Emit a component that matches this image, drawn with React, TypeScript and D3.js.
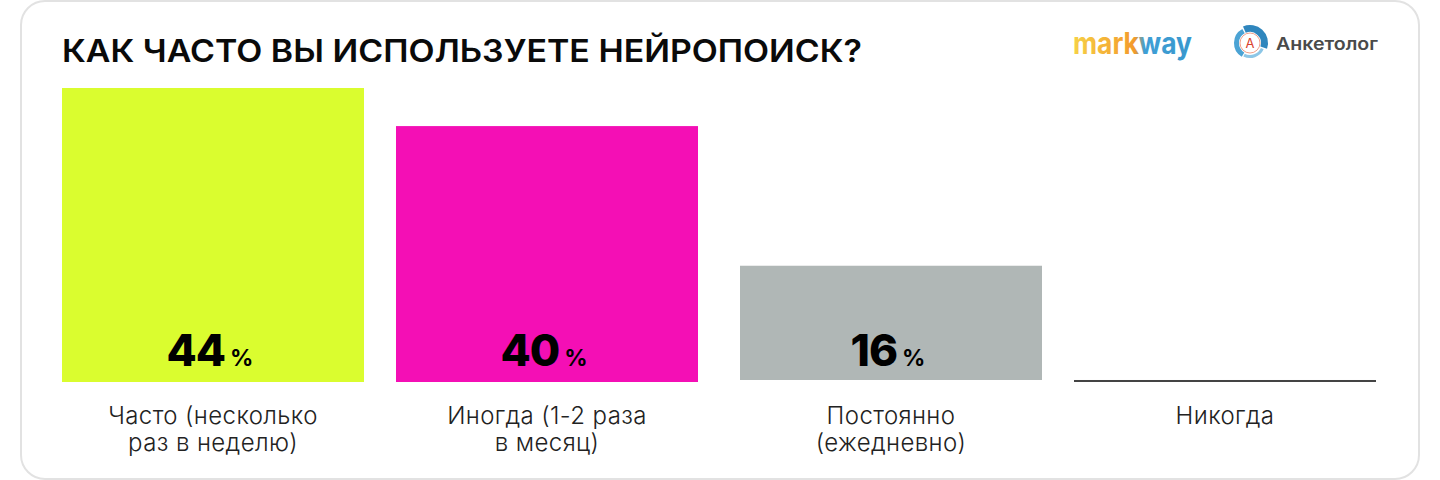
import React from "react";
import * as d3 from "d3";

const W = 1440;
const H = 480;
const titleText = "КАК ЧАСТО ВЫ ИСПОЛЬЗУЕТЕ НЕЙРОПОИСК?";
const categories = ["chasto", "inogda", "postoyanno", "nikogda"];
const labelLines = [
  ["Часто (несколько", "раз в неделю)"],
  ["Иногда (1-2 раза", "в месяц)"],
  ["Постоянно", "(ежедневно)"],
  ["Никогда"],
];
const shownPercents = [44, 40, 16, null];
// Drawn bar lengths, in the 0-44 units of the tallest bar
const barLengths = [44, 38.3, 17.1, 0.3];
const barColors = ["#dafd2f", "#f40fb5", "#b0b7b6", "#444444"];

const FONT = "Inter, 'Noto Sans', sans-serif";

const x = d3.scaleBand<string>().domain(categories).range([62, 1366]).paddingInner(32 / 334).paddingOuter(0).align(0);
const y = d3.scaleLinear().domain([0, 44]).range([382, 88]);
const groupShift = (i: number) => (i >= 2 ? 10 : 0);
const bottomShift = (i: number) => (i === 2 ? 2 : 0);

const ringDark = d3.arc()({ innerRadius: 11, outerRadius: 18, startAngle: -0.4, endAngle: 1.9 }) as string;
const ringMid = d3.arc()({ innerRadius: 11, outerRadius: 16, startAngle: -2.6, endAngle: -0.5 }) as string;
const ringLight = d3.arc()({ innerRadius: 12, outerRadius: 15, startAngle: 2.0, endAngle: 3.6 }) as string;

export default function App() {
  const bw = x.bandwidth();
  return (
    <svg width={W} height={H} viewBox={`0 0 ${W} ${H}`} style={{ position: "absolute", left: 0, top: 0, background: "#fff" }} fontFamily={FONT}>
      <defs>
        <linearGradient id="mw" x1="0" x2="1" y1="0" y2="0">
          <stop offset="0" stopColor="#f6d046" />
          <stop offset="0.52" stopColor="#f39a2c" />
          <stop offset="0.6" stopColor="#3f9fd6" />
          <stop offset="1" stopColor="#3a97cc" />
        </linearGradient>
      </defs>
      <rect x={21} y={1} width={1398} height={478} rx={24} fill="#fff" stroke="#e2e2e2" strokeWidth={2} />
      <text x={62} y={62} fontSize={31} fontWeight={600} fill="#0a0a0a" textLength={800} lengthAdjust="spacingAndGlyphs">{titleText}</text>

      <text x={1073} y={54} fontSize={30} fontWeight={700} fill="url(#mw)" textLength={119} lengthAdjust="spacingAndGlyphs">markway</text>
      <g transform="translate(1250,43)">
        <path d={ringDark} fill="#2f86bd" />
        <path d={ringMid} fill="#4ba3d4" />
        <path d={ringLight} fill="#8cc6e6" />
        <circle r={10} fill="#fff" stroke="#f0a08a" strokeWidth={1} />
      </g>
      <text x={1250} y={48} fontSize={13} textAnchor="middle" fill="#d9412b">А</text>
      <text x={1276} y={50} fontSize={17} fontWeight={600} fill="#4a4a4a" textLength={102} lengthAdjust="spacingAndGlyphs">Анкетолог</text>

      {categories.map((c, i) => {
        const bx = (x(c) as number) + groupShift(i);
        const top = y(barLengths[i]) - bottomShift(i);
        const bottom = y(0) - (i === 3 ? 0 : bottomShift(i));
        const cx = bx + bw / 2;
        const pct = shownPercents[i];
        return (
          <g key={c}>
            <rect x={bx} y={top} width={bw} height={bottom - top} fill={barColors[i]} />
            {pct !== null && (
              <text x={cx - 3} y={366} textAnchor="middle" fill="#000">
                <tspan fontSize={44} fontWeight={800} letterSpacing={-1}>{pct}</tspan>
                <tspan dx={5} fontSize={23} fontWeight={700}>%</tspan>
              </text>
            )}
            {labelLines[i].map((t, j) => (
              <text key={j} x={cx} y={424 + j * 27} textAnchor="middle" fontSize={24} fontWeight={300} letterSpacing={0.4} fill="#222">{t}</text>
            ))}
          </g>
        );
      })}
    </svg>
  );
}
